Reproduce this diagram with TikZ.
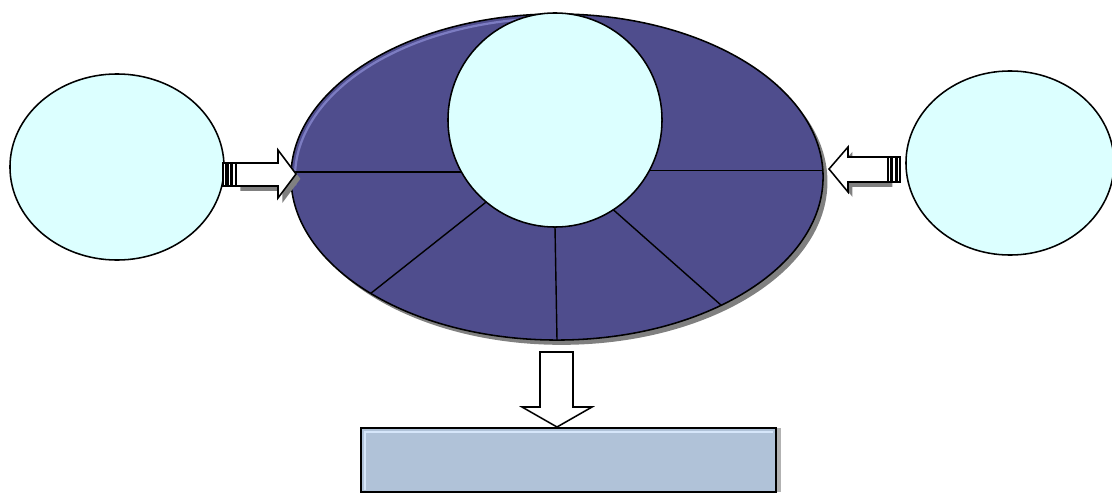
\documentclass[tikz,border=0pt]{standalone}
\usetikzlibrary{shapes.geometric,shadows}
\definecolor{cdCyan}{RGB}{220,255,255}
\definecolor{cdRing}{RGB}{79,77,141}
\definecolor{cdRingHi}{RGB}{124,124,194}
\definecolor{cdBox}{RGB}{176,194,216}
\definecolor{cdBoxHi}{RGB}{214,230,250}

\begin{document}
\begin{tikzpicture}[
  x=0.025cm, y=-0.025cm,
  sh/.style={drop shadow={shadow xshift=0.11cm, shadow yshift=-0.12cm, fill=black!50, opacity=1}},
  e/.style={ellipse, draw=black, line width=1.1pt, fill=cdCyan, inner sep=0pt, outer sep=0pt},
  ring/.style={e, fill=cdRing, sh, minimum width=13.3cm, minimum height=8.15cm},
  hub/.style={circle, draw=black, line width=1.1pt, fill=cdCyan, inner sep=0pt, outer sep=0pt, minimum size=5.35cm},
  box/.style={rectangle, draw=black, line width=1.1pt, fill=cdBox, inner sep=0pt, minimum width=10.375cm, minimum height=1.6cm,
    drop shadow={shadow xshift=0.12cm, shadow yshift=0cm, fill=black!30, opacity=1}},
  blk/.style={draw=black, line width=1.1pt, fill=white, line join=miter},
  bar/.style={draw=black, line width=1pt, fill=white},
  spoke/.style={draw=black, line width=1pt}
]
\useasboundingbox (0,0) rectangle (1112,493);

\node[e, minimum width=5.35cm, minimum height=4.65cm] (left) at (117,167) {};
\node[e, minimum width=5.2cm, minimum height=4.6cm] (right) at (1010,163) {};
\node[ring] (ring) at (557,177) {};
\draw[cdRingHi, line width=1.6pt] (ring.center) ++(-98:262 and 159) arc[start angle=-98, end angle=-183, x radius=262, y radius=159];
\node[hub] (hub) at (555,120) {};
% spokes
\draw[spoke] (hub.209) -- (hub.209 -| ring.west);
\draw[spoke] (hub.332) -- (hub.332 -| ring.east);
\foreach \a/\b in {230/212, 270/270, 303/322}
  \draw[spoke] (hub.\a) -- (ring.\b);
\node[box] (result) at (568.5,460) {};
\draw[cdBoxHi, line width=1.4pt] (365,490) -- (365,432) -- (773,432);

% block arrows
\filldraw[blk, sh] (236,163) -- (278,163) -- (278,150) -- (296,174) -- (278,198) -- (278,186) -- (236,186) -- cycle;
\foreach \x in {223,228,232.5}
  \filldraw[bar] (\x,163) rectangle ++(3,23);
\filldraw[blk, sh] (888,157) -- (848,157) -- (848,147) -- (829,169) -- (848,192) -- (848,182) -- (888,182) -- cycle;
\foreach \x in {888,892.5,897}
  \filldraw[bar] (\x,157) rectangle ++(3,25);
\filldraw[blk] (540,352) -- (573,352) -- (573,407) -- (592,407) -- (557,427) -- (522,407) -- (540,407) -- cycle;
\end{tikzpicture}
\end{document}
